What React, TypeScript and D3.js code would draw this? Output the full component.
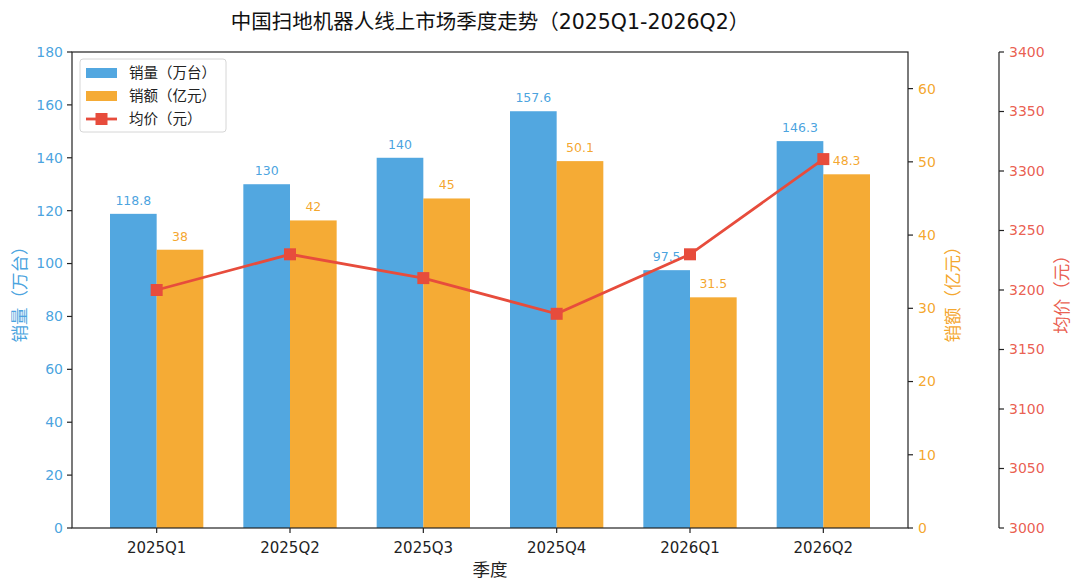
import React from 'react';
import * as d3 from 'd3';

const quarters = ['2025Q1', '2025Q2', '2025Q3', '2025Q4', '2026Q1', '2026Q2'];
const volume = [118.8, 130, 140, 157.6, 97.5, 146.3]; // 万台
const revenue = [38, 42, 45, 50.1, 31.5, 48.3]; // 亿元
const price = [3200, 3230, 3210, 3180, 3230, 3310]; // 元

const volumeTicks = [0, 20, 40, 60, 80, 100, 120, 140, 160, 180];
const revenueTicks = [0, 10, 20, 30, 40, 50, 60];
const priceTicks = [3000, 3050, 3100, 3150, 3200, 3250, 3300, 3350, 3400];

const BLUE = '#3498db';
const ORANGE = '#f39c12';
const RED = '#e74c3c';
const FONT = '"DejaVu Sans", "Noto Sans CJK SC", sans-serif';

const W = 1080;
const H = 588;
const margin = { left: 72, right: 172, top: 52, bottom: 60 };
const barW = 0.35;

export default function App() {
  const x0 = margin.left;
  const x1 = W - margin.right;
  const yTop = margin.top;
  const yBot = H - margin.bottom;
  const axis3X = 999;

  const x = d3.scaleLinear().domain([-0.635, 5.635]).range([x0, x1]);
  const yL = d3.scaleLinear().domain([0, 180]).range([yBot, yTop]);
  const yR = d3.scaleLinear().domain([0, 65]).range([yBot, yTop]);
  const yP = d3.scaleLinear().domain([3000, 3400]).range([yBot, yTop]);

  const line = d3
    .line<number>()
    .x((_, i) => x(i))
    .y((d) => yP(d));

  const bw = x(barW) - x(0);
  const tickOp = 0.9;

  return (
    <svg
      width={W}
      height={H}
      style={{ position: 'absolute', left: 0, top: 0, display: 'block', background: '#fff' }}
      fontFamily={FONT}
    >
      {/* Title */}
      <text x={(x0 + x1) / 2} y={29} textAnchor="middle" fontSize={20.5} fill="#111">
        中国扫地机器人线上市场季度走势（2025Q1-2026Q2）
      </text>

      {/* Bars */}
      {volume.map((v, i) => (
        <rect
          key={'v' + i}
          x={x(i - barW)}
          y={yL(v)}
          width={bw}
          height={yBot - yL(v)}
          fill={BLUE}
          fillOpacity={0.85}
        />
      ))}
      {revenue.map((v, i) => (
        <rect
          key={'r' + i}
          x={x(i)}
          y={yR(v)}
          width={bw}
          height={yBot - yR(v)}
          fill={ORANGE}
          fillOpacity={0.85}
        />
      ))}

      {/* Bar value labels */}
      {volume.map((v, i) => (
        <text
          key={'vl' + i}
          x={x(i - barW / 2)}
          y={yL(v) - 9}
          textAnchor="middle"
          fontSize={12.5}
          fill={BLUE}
          fillOpacity={tickOp}
        >
          {v}
        </text>
      ))}
      {revenue.map((v, i) => (
        <text
          key={'rl' + i}
          x={x(i + barW / 2)}
          y={yR(v) - 9}
          textAnchor="middle"
          fontSize={12.5}
          fill={ORANGE}
          fillOpacity={tickOp}
        >
          {v}
        </text>
      ))}

      {/* Price line */}
      <path d={line(price) || ''} fill="none" stroke={RED} strokeWidth={2.8} />
      {price.map((p, i) => (
        <rect key={'m' + i} x={x(i) - 6} y={yP(p) - 6} width={12} height={12} fill={RED} />
      ))}

      {/* Frame */}
      <rect x={x0} y={yTop} width={x1 - x0} height={yBot - yTop} fill="none" stroke="#222" strokeWidth={1.2} />
      <line x1={axis3X} x2={axis3X} y1={yTop} y2={yBot} stroke="#222" strokeWidth={1.2} />

      {/* Left axis */}
      {volumeTicks.map((t) => (
        <g key={'lt' + t}>
          <line x1={x0 - 5} x2={x0} y1={yL(t)} y2={yL(t)} stroke="#222" strokeWidth={1.2} />
          <text x={x0 - 9} y={yL(t)} dy="0.35em" textAnchor="end" fontSize={14} fill={BLUE} fillOpacity={tickOp}>
            {t}
          </text>
        </g>
      ))}
      <text
        transform={`translate(26,${(yTop + yBot) / 2}) rotate(-90)`}
        textAnchor="middle"
        fontSize={17.5}
        fill={BLUE}
        fillOpacity={tickOp}
      >
        销量（万台）
      </text>

      {/* Middle right axis */}
      {revenueTicks.map((t) => (
        <g key={'rt' + t}>
          <line x1={x1} x2={x1 + 5} y1={yR(t)} y2={yR(t)} stroke="#222" strokeWidth={1.2} />
          <text x={x1 + 10} y={yR(t)} dy="0.35em" textAnchor="start" fontSize={14} fill={ORANGE} fillOpacity={tickOp}>
            {t}
          </text>
        </g>
      ))}
      <text
        transform={`translate(959,${(yTop + yBot) / 2}) rotate(-90)`}
        textAnchor="middle"
        fontSize={17.5}
        fill={ORANGE}
        fillOpacity={tickOp}
      >
        销额（亿元）
      </text>

      {/* Far right axis */}
      {priceTicks.map((t) => (
        <g key={'pt' + t}>
          <line x1={axis3X} x2={axis3X + 5} y1={yP(t)} y2={yP(t)} stroke="#222" strokeWidth={1.2} />
          <text x={axis3X + 10} y={yP(t)} dy="0.35em" textAnchor="start" fontSize={14} fill={RED} fillOpacity={tickOp}>
            {t}
          </text>
        </g>
      ))}
      <text
        transform={`translate(1068,${(yTop + yBot) / 2}) rotate(-90)`}
        textAnchor="middle"
        fontSize={17.5}
        fill={RED}
        fillOpacity={tickOp}
      >
        均价（元）
      </text>

      {/* X axis */}
      {quarters.map((q, i) => (
        <g key={'xt' + i}>
          <line x1={x(i)} x2={x(i)} y1={yBot} y2={yBot + 5} stroke="#222" strokeWidth={1.2} />
          <text x={x(i)} y={yBot + 20} dy="0.35em" textAnchor="middle" fontSize={15} fill="#222">
            {q}
          </text>
        </g>
      ))}
      <text x={(x0 + x1) / 2} y={576} textAnchor="middle" fontSize={17.5} fill="#222">
        季度
      </text>

      {/* Legend */}
      <g transform="translate(80,59)">
        <rect width={146} height={73} rx={3} fill="#fff" fillOpacity={0.85} stroke="#d6d6d6" />
        <rect x={6} y={9} width={31} height={10} fill={BLUE} fillOpacity={0.85} />
        <text x={49} y={14} dy="0.35em" fontSize={14.5} fill="#222">销量（万台）</text>
        <rect x={6} y={32} width={31} height={10} fill={ORANGE} fillOpacity={0.85} />
        <text x={49} y={37} dy="0.35em" fontSize={14.5} fill="#222">销额（亿元）</text>
        <line x1={6} x2={37} y1={60} y2={60} stroke={RED} strokeWidth={2.8} />
        <rect x={15.5} y={54} width={12} height={12} fill={RED} />
        <text x={49} y={60} dy="0.35em" fontSize={14.5} fill="#222">均价（元）</text>
      </g>
    </svg>
  );
}
